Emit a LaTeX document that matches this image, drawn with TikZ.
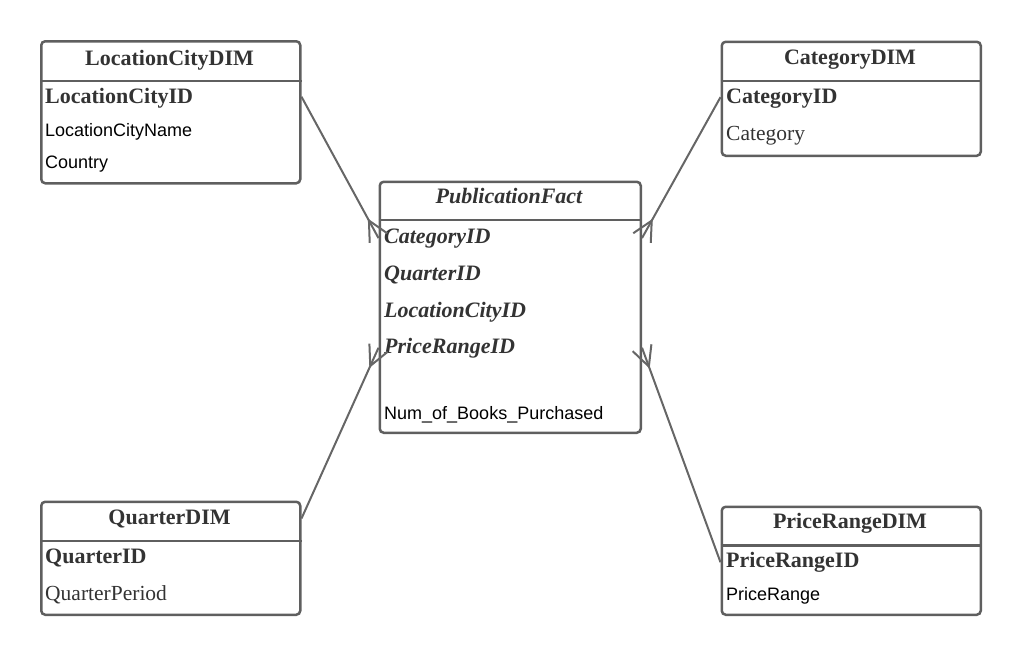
\documentclass[tikz,border=0pt]{standalone}
\usepackage{fontspec}
\setmainfont{Liberation Serif}
\newfontfamily\sansf{Liberation Sans}
\usetikzlibrary{calc}
\definecolor{edgec}{HTML}{5F5F5F}
\definecolor{linec}{HTML}{666666}
\definecolor{txt}{HTML}{333333}
\tikzset{
  tbox/.style={draw=edgec, line width=2.5pt, rounded corners=4pt, anchor=north west, inner sep=0pt},
  divider/.style={draw=edgec, line width=2.5pt},
  ttitle/.style={anchor=base, font=\fontsize{22}{26}\selectfont\bfseries, text=txt, inner sep=0pt},
  fttitle/.style={ttitle, font=\fontsize{22}{26}\selectfont\bfseries\itshape},
  pkey/.style={anchor=base west, font=\fontsize{22}{26}\selectfont\bfseries, text=txt, inner sep=0pt},
  fkey/.style={pkey, font=\fontsize{22}{26}\selectfont\bfseries\itshape},
  attr/.style={anchor=base west, font=\fontsize{18}{21}\selectfont\sansf, text=black, inner sep=0pt},
  sattr/.style={anchor=base west, font=\fontsize{21.5}{25}\selectfont, text=txt, inner sep=0pt},
  conn/.style={draw=linec, line width=2pt},
}
\newcommand\crowfoot[2]{%
  \draw[conn] (#1) -- (#2);
  \draw[conn] ($(#2)!10pt!90:(#1)$) -- ($(#2)!20pt!(#1)$) -- ($(#2)!10pt!-90:(#1)$);
}
\begin{document}
\begin{tikzpicture}[x=1pt,y=-1pt]
\useasboundingbox (0,0) rectangle (1020,654);

% LocationCityDIM
\node[tbox, minimum width=259pt, minimum height=142pt] (loc) at (40,40) {};
\draw[divider] ([yshift=-41pt]loc.north west) -- ([yshift=-41pt]loc.north east);
\node[ttitle] (loctitle) at (169.5,65) {LocationCityDIM};
\node[pkey] (lockey) at (45,103) {LocationCityID};
\node[attr] (locname) at (45,136) {LocationCityName};
\node[attr] (loccountry) at (45,168) {Country};

% CategoryDIM
\node[tbox, minimum width=259pt, minimum height=114pt] (cat) at (720.5,40.5) {};
\draw[divider] ([yshift=-40.5pt]cat.north west) -- ([yshift=-40.5pt]cat.north east);
\node[ttitle] (cattitle) at (850,64) {CategoryDIM};
\node[pkey] (catkey) at (726,103) {CategoryID};
\node[sattr] (catname) at (726,140) {Category};

% PublicationFact
\node[tbox, minimum width=261pt, minimum height=251pt] (fact) at (378.5,180.5) {};
\draw[divider] ([yshift=-39.5pt]fact.north west) -- ([yshift=-39.5pt]fact.north east);
\node[fttitle] (facttitle) at (509,203) {PublicationFact};
\node[fkey] (fcat) at (384,243) {CategoryID};
\node[fkey] (fqtr) at (384,280) {QuarterID};
\node[fkey] (floc) at (384,317) {LocationCityID};
\node[fkey] (fprice) at (384,353) {PriceRangeID};
\node[attr] (fnum) at (384,419) {Num\_of\_Books\_Purchased};

% QuarterDIM
\node[tbox, minimum width=259pt, minimum height=113pt] (qtr) at (40,500.5) {};
\draw[divider] ([yshift=-40.5pt]qtr.north west) -- ([yshift=-40.5pt]qtr.north east);
\node[ttitle] (qtrtitle) at (169.5,524) {QuarterDIM};
\node[pkey] (qtrkey) at (45,563) {QuarterID};
\node[sattr] (qtrname) at (45,600) {QuarterPeriod};

% PriceRangeDIM
\node[tbox, minimum width=259pt, minimum height=108pt] (prc) at (720.5,505.5) {};
\draw[divider] ([yshift=-40pt]prc.north west) -- ([yshift=-40pt]prc.north east);
\node[ttitle] (prctitle) at (850,528) {PriceRangeDIM};
\node[pkey] (prckey) at (726,567.5) {PriceRangeID};
\node[attr] (prcname) at (726,600) {PriceRange};

% connectors
\coordinate (s1) at ([yshift=1pt]loc.east |- lockey);
\coordinate (e1) at (fact.west |- fcat);
\coordinate (s2) at ([yshift=1pt]cat.west |- catkey);
\coordinate (e2) at (fact.east |- fcat);
\coordinate (s3) at (qtr.east |- qtrtitle);
\coordinate (e3) at (fact.west |- fprice);
\coordinate (s4) at (prc.west |- prckey);
\coordinate (e4) at (fact.east |- fprice);
\crowfoot{s1}{e1}
\crowfoot{s2}{e2}
\crowfoot{s3}{e3}
\crowfoot{s4}{e4}
\end{tikzpicture}
\end{document}
